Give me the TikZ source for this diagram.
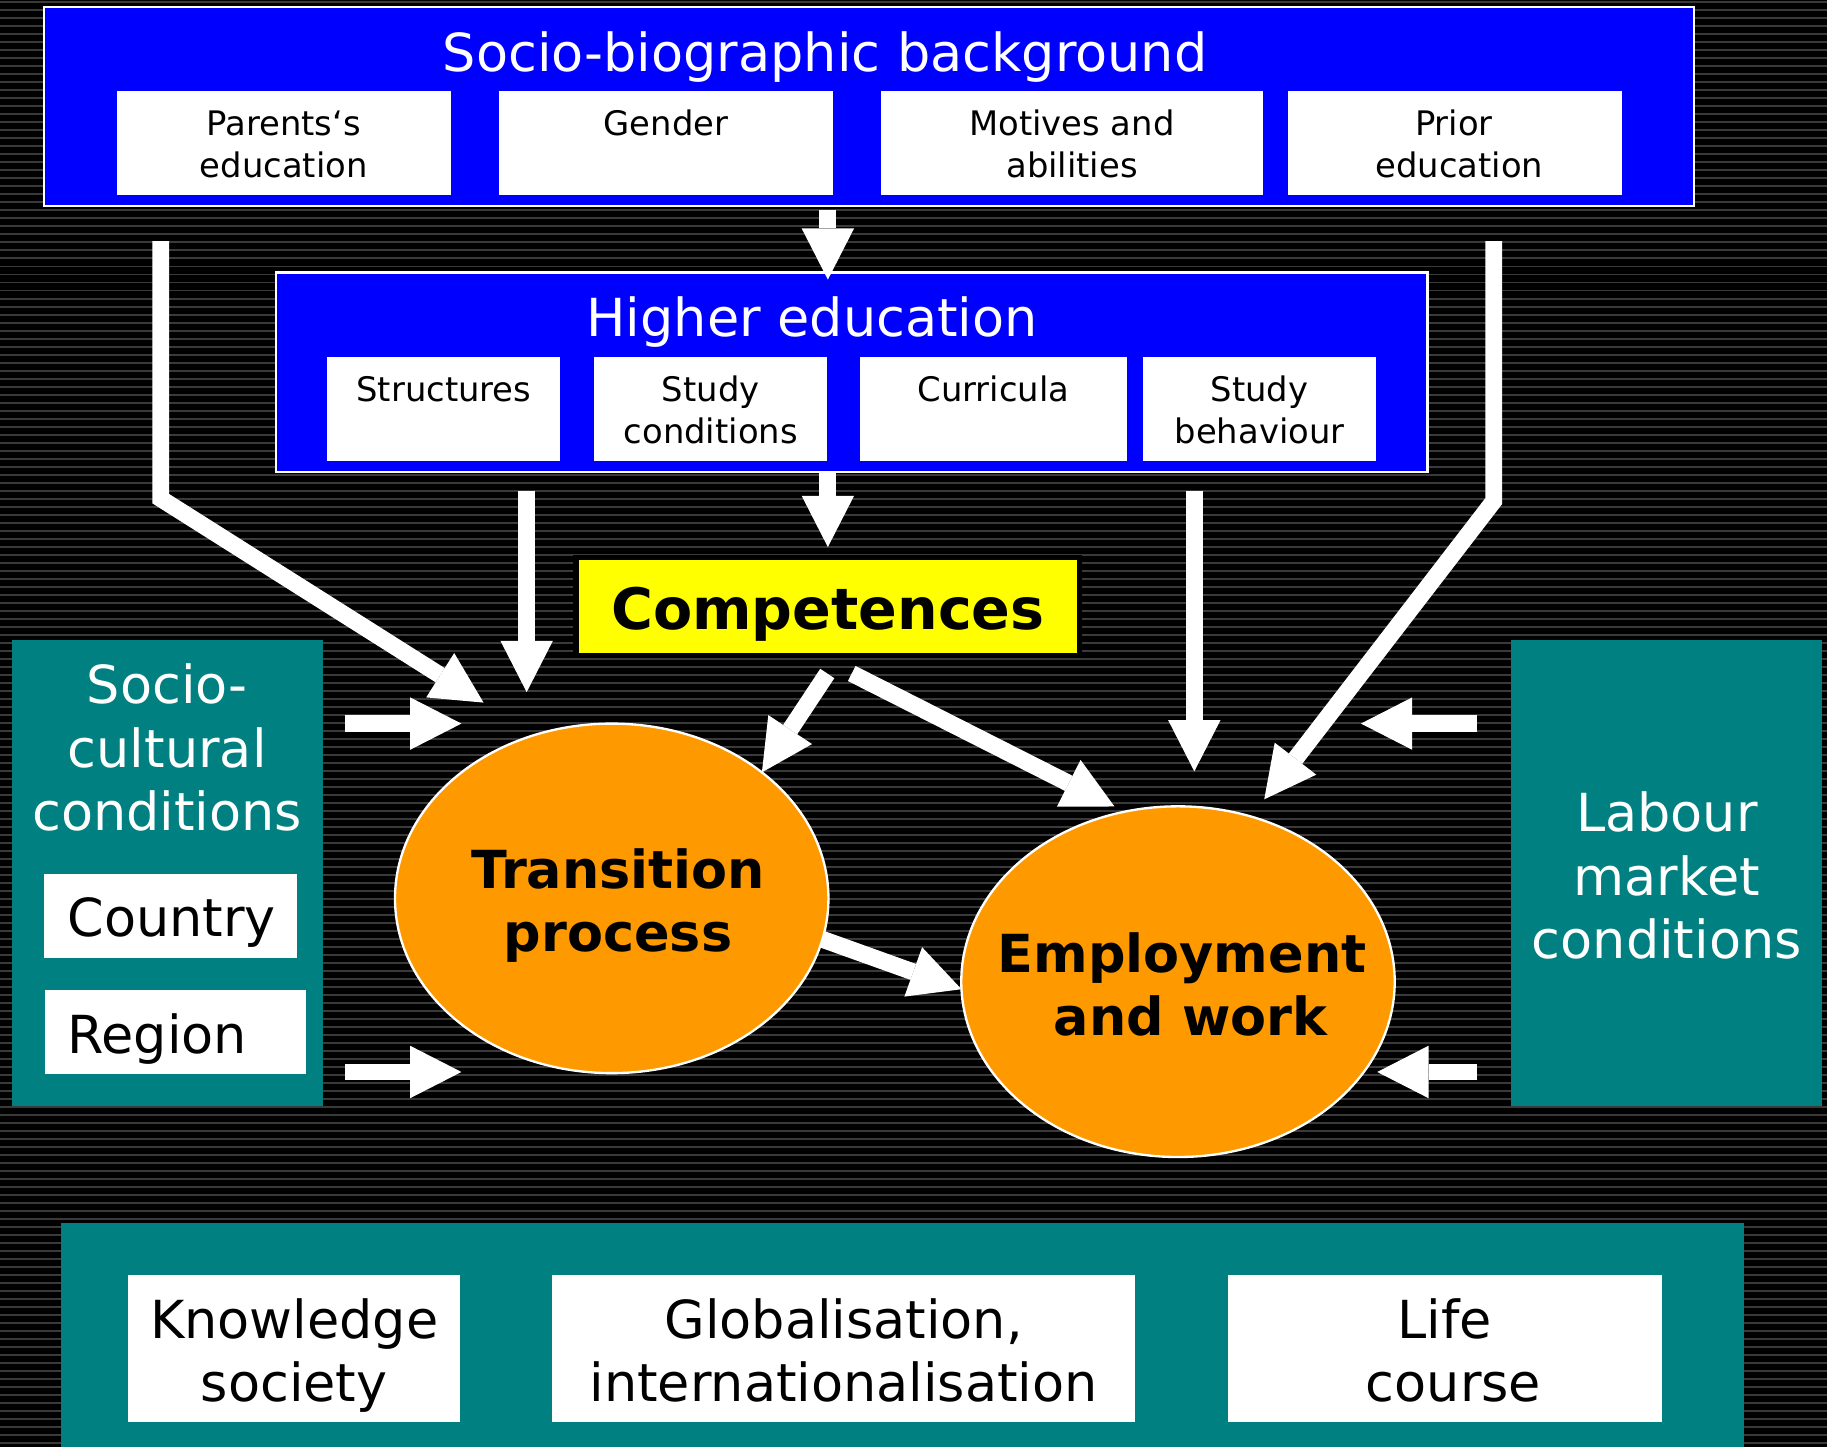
\documentclass[tikz,border=0pt]{standalone}
\usepackage{fontspec}
\setmainfont{DejaVu Sans}
\usetikzlibrary{arrows.meta,shapes.geometric,calc}
\definecolor{bgblue}{HTML}{0000FF}
\definecolor{tealc}{HTML}{008080}
\definecolor{orng}{HTML}{FF9900}
\definecolor{yel}{HTML}{FFFF00}
\definecolor{stripec}{HTML}{3A3A3A}
\newcommand{\ml}[1]{\begin{tabular}[t]{@{}c@{}}#1\end{tabular}}
\newcommand{\bigf}{\fontsize{22.5pt}{27.25pt}\selectfont}
\newcommand{\smf}{\fontsize{14.5pt}{18pt}\selectfont}
\newcommand{\compf}{\fontsize{24.5pt}{29pt}\selectfont\bfseries}
\newcommand{\trsp}{\hspace*{0.33em}}
\newcommand{\rbox}[6]{\node[#1, anchor=north west, minimum width={(#5-#3)*0.5pt}, minimum height={(#6-#4)*0.5pt}] (#2) at (#3,#4) {};}
\tikzset{
  blueframe/.style={fill=bgblue, draw=white, line width=1pt, inner sep=0pt, outer sep=0pt},
  wbox/.style={fill=white, inner sep=0pt, outer sep=0pt},
  tealbox/.style={fill=tealc, inner sep=0pt, outer sep=0pt},
  ybox/.style={fill=yel, draw=black, line width=2.5pt, inner sep=0pt, outer sep=0pt},
  oval/.style={ellipse, fill=orng, draw=white, line width=1pt, inner sep=0pt, outer sep=0pt},
  arr/.style={draw=white, line width=7.25pt, line join=miter, -{Triangle[length=22pt,width=22.5pt,line width=0pt]}},
  lbl/.style={anchor=base, inner sep=0pt, outer sep=0pt},
  wtxt/.style={lbl, text=white},
  ktxt/.style={lbl, text=black},
  stripeln/.style={draw=stripec, line width=0.85pt}
}
\begin{document}
\begin{tikzpicture}[x=0.5pt,y=-0.5pt]
\useasboundingbox (0,0) rectangle (1568,1242);
\fill[black] (0,0) rectangle (1568,1242);
\foreach \i in {0,...,181} { \draw[stripeln] (0,{\i*6.87+2}) -- (1568,{\i*6.87+2}); }

% top block
\rbox{blueframe}{top}{38}{6}{1454}{177}
\rbox{wbox}{parents}{100}{78}{387}{167}
\rbox{wbox}{gender}{428}{78}{715}{167}
\rbox{wbox}{motives}{756}{78}{1084}{167}
\rbox{wbox}{prior}{1105}{78}{1392}{167}
% higher education
\rbox{blueframe}{he}{237}{234}{1225}{405}
\rbox{wbox}{struct}{281}{306}{481}{396}
\rbox{wbox}{studyc}{510}{306}{710}{396}
\rbox{wbox}{curr}{738}{306}{967}{396}
\rbox{wbox}{studyb}{981}{306}{1181}{396}
% competences
\rbox{ybox}{comp}{494.5}{478.5}{926.5}{562.5}
% ellipses
\node[oval, minimum width=186pt, minimum height=150pt] (trans) at (525,771) {};
\node[oval, minimum width=186pt, minimum height=150.5pt] (emp) at (1011,842.5) {};
% side and bottom boxes
\rbox{tealbox}{soc}{10}{549}{277}{949}
\rbox{wbox}{country}{38}{750}{255}{822}
\rbox{wbox}{region}{39}{850}{263}{922}
\rbox{tealbox}{lab}{1297}{549}{1564}{949}
\rbox{tealbox}{ctx}{52}{1050}{1497}{1242}
\rbox{wbox}{know}{110}{1094}{395}{1220}
\rbox{wbox}{glob}{474}{1094}{974}{1220}
\rbox{wbox}{life}{1054}{1094}{1426}{1220}

% texts
\node[wtxt, font=\bigf] (t-top) at (708,61.5) {Socio-biographic background};
\node[ktxt, font=\smf] (t-par) at (243.5,116.5) {\ml{Parents‘s\\education}};
\node[ktxt, font=\smf] (t-gen) at (571.5,116.5) {Gender};
\node[ktxt, font=\smf] (t-mot) at (920,116.5) {\ml{Motives and\\abilities}};
\node[ktxt, font=\smf] (t-pri) at (1252.5,116.5) {\ml{Prior\trsp\\education}};
\node[wtxt, font=\bigf] (t-he) at (697,288.5) {Higher education};
\node[ktxt, font=\smf] (t-str) at (381,344.5) {Structures};
\node[ktxt, font=\smf] (t-sc) at (610,344.5) {\ml{Study\\conditions}};
\node[ktxt, font=\smf] (t-cur) at (852.5,344.5) {Curricula};
\node[ktxt, font=\smf] (t-sb) at (1081,344.5) {\ml{Study\\behaviour}};
\node[ktxt, font=\compf] (t-comp) at (710.5,540) {Competences};
\node[ktxt, font=\bigf\bfseries] (t-trans) at (530.5,762.5) {\ml{Transition\\process}};
\node[ktxt, font=\bigf\bfseries] (t-emp) at (1022,834.5) {\ml{Employment\trsp\\and work}};
\node[wtxt, font=\bigf] (t-soc) at (143.5,604) {\ml{Socio-\\cultural\\conditions}};
\node[ktxt, font=\bigf, anchor=base west] (t-country) at (58,804) {Country};
\node[ktxt, font=\bigf, anchor=base west] (t-region) at (58,904) {Region};
\node[wtxt, font=\bigf] (t-lab) at (1430.5,714) {\ml{Labour\\market\\conditions}};
\node[ktxt, font=\bigf] (t-know) at (252.5,1148.5) {\ml{Knowledge\\society}};
\node[ktxt, font=\bigf] (t-glob) at (724,1148.5) {\ml{Globalisation,\\internationalisation}};
\node[ktxt, font=\bigf] (t-life) at (1247.5,1148.5) {\ml{Life\trsp\\course}};

% connector end points
\coordinate (a3s) at (138,207);
\coordinate (a3k) at (138,428);
\coordinate (a3e) at (415,603);
\coordinate (a6s) at (1282,207);
\coordinate (a6k) at (1282,430);
\coordinate (a6e) at (1085,686);
\coordinate (a4s) at (452,421);
\coordinate (a4e) at (452,594);
\coordinate (a5s) at (1025,421);
\coordinate (a5e) at (1025,662);
\coordinate (l1s) at (296,621);
\coordinate (l1e) at (396,621);
\coordinate (l2s) at (296,920);
\coordinate (l2e) at (396,920);
\coordinate (r1s) at (1268,621);
\coordinate (r1e) at (1168,621);
\coordinate (r2s) at (1268,920);
\coordinate (r2e) at (1182,920);

% arrows
\draw[arr] ($(top.south -| comp.center)+(0,3)$) -- ($(he.north -| comp.center)+(0,6)$);
\draw[arr] ($(he.south -| comp.center)+(0,1)$) -- ($(comp.north)+(0,-9)$);
\draw[arr] (a3s) -- (a3k) -- (a3e);
\draw[arr] (a6s) -- (a6k) -- (a6e);
\draw[arr] (a4s) -- (a4e);
\draw[arr] (a5s) -- (a5e);
\draw[arr] ($(comp.south)+(-0.5,15.5)$) -- (trans.40);
\draw[arr] ($(comp.south)+(20.5,15.5)$) -- ($(emp.110)+(-2,-6)$);
\draw[arr] (trans.-11) -- (emp.182);
\draw[arr] (l1s) -- (l1e);
\draw[arr] (l2s) -- (l2e);
\draw[arr] (r1s) -- (r1e);
\draw[arr] (r2s) -- (r2e);
\end{tikzpicture}
\end{document}
